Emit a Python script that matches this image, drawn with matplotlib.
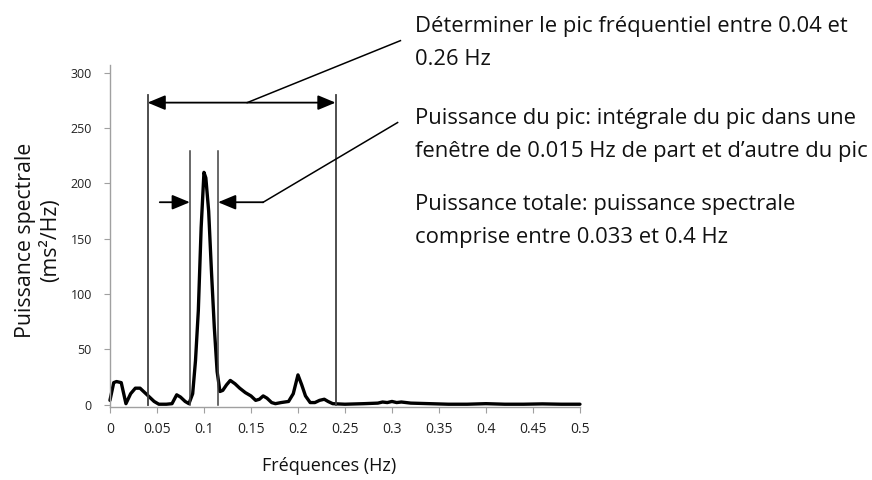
import matplotlib
matplotlib.use('Agg')
import matplotlib.pyplot as plt

plt.rcParams['font.family'] = ['Open Sans', 'DejaVu Sans']

# spectre
freq = [0, 0.004, 0.007, 0.012, 0.017, 0.022, 0.027, 0.032, 0.037, 0.042, 0.047, 0.052,
        0.06, 0.066, 0.071, 0.075, 0.08, 0.084, 0.088, 0.091, 0.094, 0.097, 0.1, 0.102,
        0.105, 0.108, 0.111, 0.114, 0.117, 0.12, 0.124, 0.128, 0.133, 0.138, 0.144, 0.15,
        0.155, 0.159, 0.163, 0.167, 0.172, 0.176, 0.182, 0.19, 0.195, 0.2, 0.204, 0.208,
        0.213, 0.218, 0.223, 0.228, 0.232, 0.237, 0.25, 0.27, 0.285, 0.29, 0.295, 0.3,
        0.305, 0.31, 0.32, 0.34, 0.36, 0.38, 0.4, 0.42, 0.44, 0.46, 0.48, 0.5]
power = [4, 20, 21, 20, 1, 10, 15, 15, 11, 7, 3, 0.5,
         0.5, 1, 9, 7, 3, 1, 10, 40, 85, 160, 210, 205,
         175, 120, 70, 30, 12, 13, 18, 22, 19, 15, 11, 8,
         4, 5, 8, 6, 2, 1, 2, 3, 10, 27, 18, 8,
         2, 2, 4, 5, 3, 1, 0.5, 1, 1.5, 2.5, 2, 3,
         2, 2.5, 1.5, 1, 0.5, 0.5, 1, 0.5, 0.5, 0.8, 0.5, 0.5]

xticks = [0, 0.05, 0.1, 0.15, 0.2, 0.25, 0.3, 0.35, 0.4, 0.45, 0.5]
xtick_labels = ['0', '0.05', '0.1', '0.15', '0.2', '0.25', '0.3', '0.35', '0.4', '0.45', '0.5']
yticks = [0, 50, 100, 150, 200, 250, 300]

band = [0.04, 0.24]        # bande de recherche du pic
window = [0.085, 0.115]    # fenetre autour du pic
band_top = 280
window_top = 229

notes = ["Déterminer le pic fréquentiel entre 0.04 et\n0.26 Hz",
         "Puissance du pic: intégrale du pic dans une\nfenêtre de 0.015 Hz de part et d\u2019autre du pic",
         "Puissance totale: puissance spectrale\ncomprise entre 0.033 et 0.4 Hz"]

fig = plt.figure(figsize=(8.72, 4.8), dpi=100)
ax = fig.add_axes([0.1261, 0.1521, 0.539, 0.7125])

ax.plot(freq, power, color='black', lw=2.4, solid_joinstyle='round', solid_capstyle='round', clip_on=False)

for x in band:
    ax.plot([x, x], [0, band_top], color='#404040', lw=1.3)
for x in window:
    ax.plot([x, x], [0, window_top], color='#404040', lw=1.1)

ax.set_xlim(0, 0.5)
ax.set_ylim(-2, 307)
ax.set_xticks(xticks)
ax.set_xticklabels(xtick_labels)
ax.set_yticks(yticks)
for s in ['top', 'right']:
    ax.spines[s].set_visible(False)
for s in ['left', 'bottom']:
    ax.spines[s].set_color('#a0a0a0')
    ax.spines[s].set_linewidth(1.0)
ax.tick_params(axis='x', colors='#a0a0a0', labelcolor='#222222', labelsize=10, length=4, pad=7)
ax.tick_params(axis='y', colors='#a0a0a0', labelcolor='#222222', labelsize=9, length=4, pad=9)

# fleches
arrow_kw = dict(arrowstyle='-|>,head_length=0.6,head_width=0.25', color='black', lw=1.3,
                mutation_scale=18, shrinkA=0, shrinkB=0)
ax.annotate('', xy=(band[1], 273), xytext=(band[0], 273),
            arrowprops=dict(arrowstyle='<|-|>,head_length=0.6,head_width=0.25', color='black',
                            lw=1.3, mutation_scale=18, shrinkA=0, shrinkB=0))
ax.annotate('', xy=(window[0], 183), xytext=(0.053, 183), arrowprops=arrow_kw)
ax.annotate('', xy=(window[1], 183), xytext=(0.163, 183), arrowprops=arrow_kw)

# traits de rappel vers le texte
ax.plot([0.146, 0.309], [273, 329], color='black', lw=1.1, clip_on=False)
ax.plot([0.163, 0.306], [183, 255], color='black', lw=1.1, clip_on=False)

fig.text(0.476, 0.911, notes[0], fontsize=15.8, va='center', ha='left', linespacing=1.75, color='#111111')
fig.text(0.476, 0.719, notes[1], fontsize=15.8, va='center', ha='left', linespacing=1.75, color='#111111')
fig.text(0.476, 0.540, notes[2], fontsize=15.8, va='center', ha='left', linespacing=1.75, color='#111111')

fig.text(0.044, 0.5, "Puissance spectrale\n(ms²/Hz)", rotation=90, fontsize=15.3,
         ha='center', va='center', linespacing=1.25, color='#111111')
fig.text(0.378, 0.029, "Fréquences (Hz)", fontsize=13, ha='center', va='center', color='#111111')

fig.savefig('out.png', dpi=100)
